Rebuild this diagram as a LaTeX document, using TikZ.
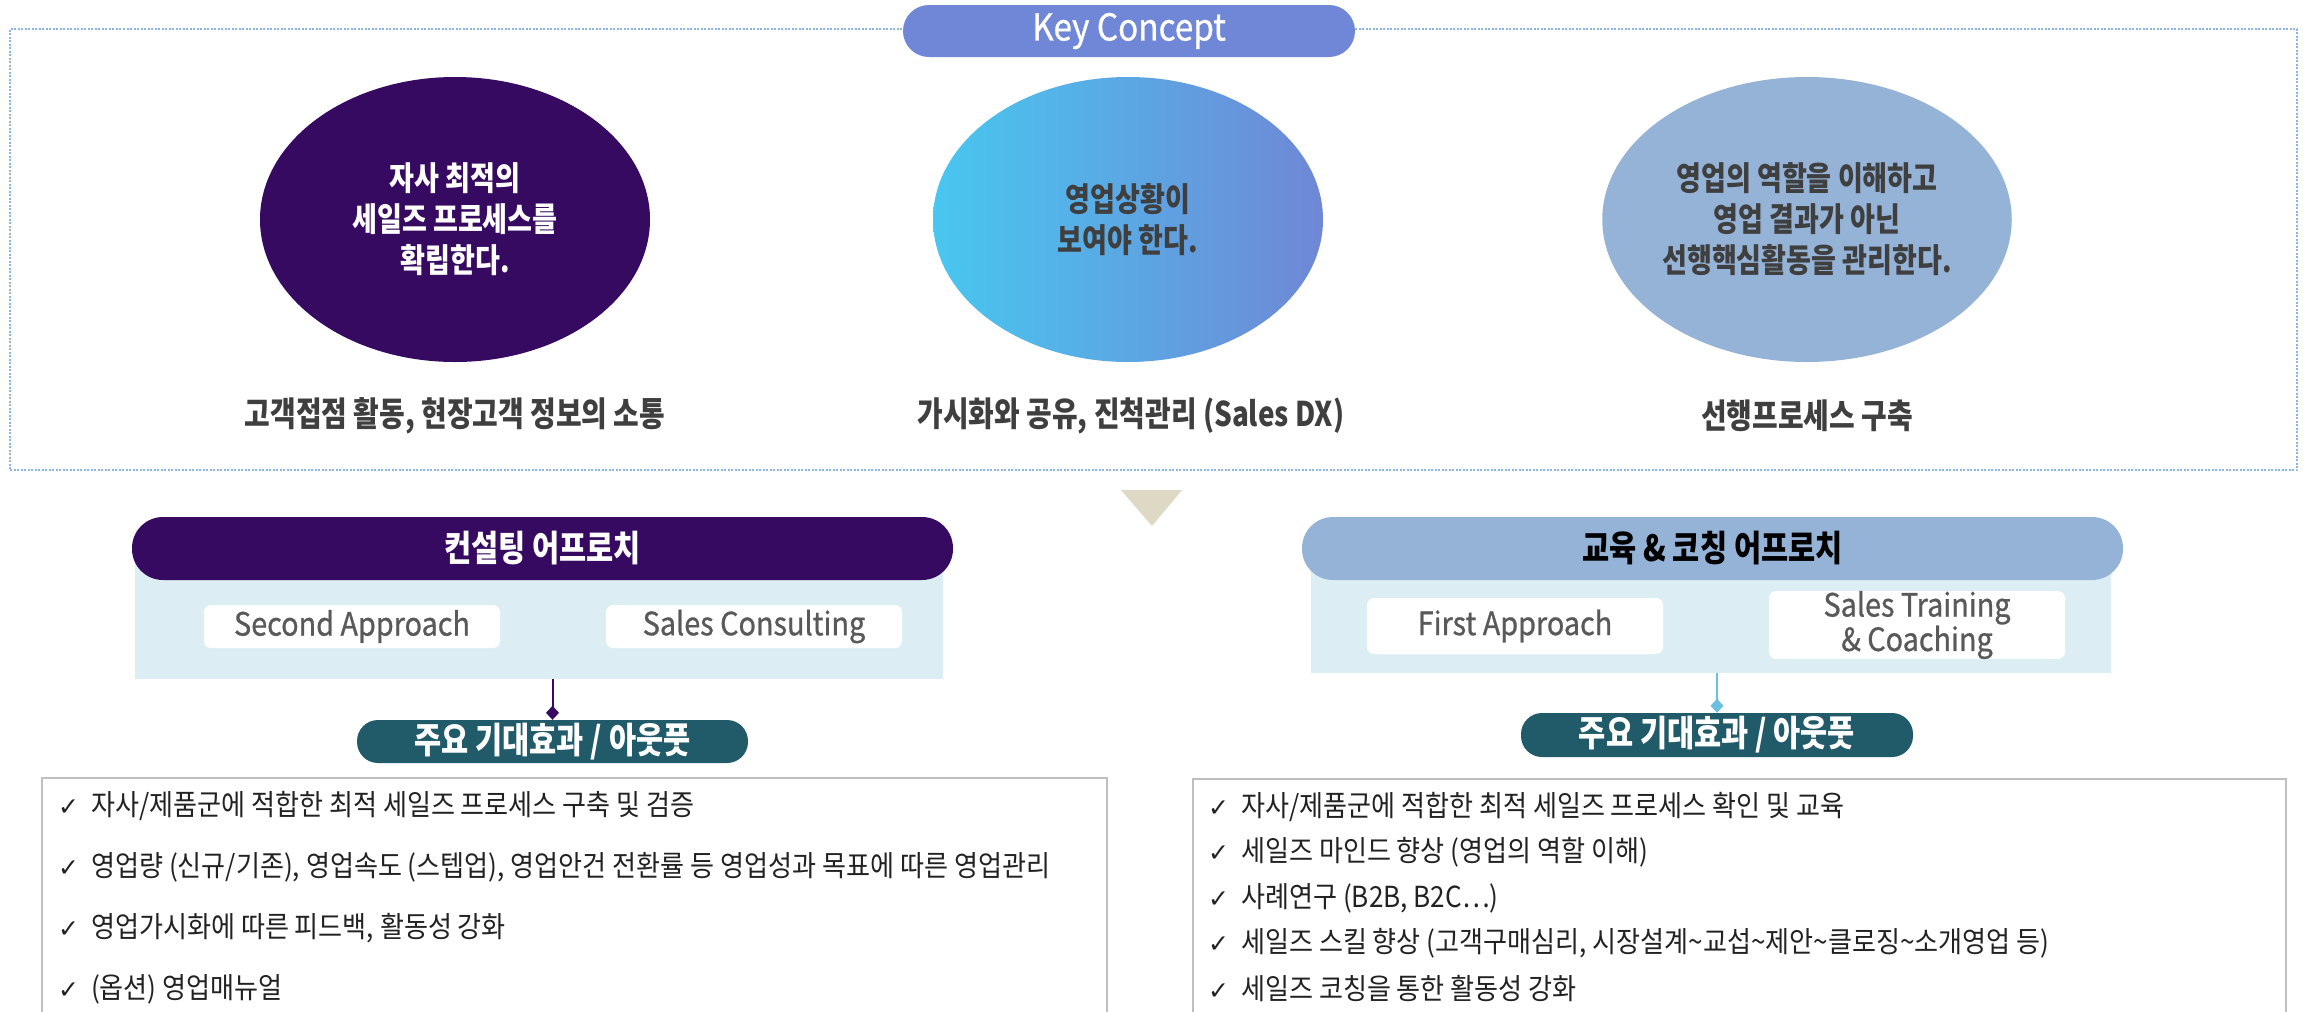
\documentclass[tikz,border=0pt]{standalone}
\usepackage{fontspec}
\setmainfont{Noto Sans CJK KR}
\newfontfamily\kc{Noto Sans CJK KR}[FakeStretch=0.82]
\newfontfamily\kl{Noto Sans CJK KR}[FakeStretch=0.9]
\newfontfamily\km{Noto Sans CJK KR}[FakeStretch=0.9, FakeBold=0.8]
\newfontfamily\dv{DejaVu Sans}
\usetikzlibrary{shapes.geometric,arrows.meta}
\definecolor{dpurple}{HTML}{360A61}
\definecolor{kcblue}{HTML}{6F87D6}
\definecolor{cyanl}{HTML}{48C7F0}
\definecolor{steel}{HTML}{95B3D7}
\definecolor{paleblue}{HTML}{DCEEF3}
\definecolor{tealdk}{HTML}{215A69}
\definecolor{tanc}{HTML}{DDD9C4}
\definecolor{dotblue}{HTML}{8EB4E3}
\definecolor{txtgray}{HTML}{3F3F3F}
\definecolor{boxgray}{HTML}{BFBFBF}
\definecolor{linkcyan}{HTML}{6CBFDE}
\definecolor{wtxt}{HTML}{595959}
\definecolor{itemtxt}{HTML}{222222}
\newcommand\ckm{{\dv\fontsize{25}{25}\selectfont ✓}\hspace{12pt}}
\begin{document}
\begin{tikzpicture}[x=1pt,y=-1pt,
  ell/.style={ellipse, minimum width=390pt, minimum height=285pt, inner sep=0pt, align=center,
    font=\kc\bfseries\fontsize{33}{41}\selectfont},
  capt/.style={inner sep=0pt, font=\kc\bfseries\fontsize{34}{36}\selectfont, text=txtgray},
  hdr/.style={rectangle, minimum width=821pt, minimum height=63pt, rounded corners=31pt, inner sep=0pt,
    font=\kc\bfseries\fontsize{36}{36}\selectfont},
  bgbox/.style={rectangle, fill=paleblue, inner sep=0pt},
  wbox/.style={rectangle, fill=white, rounded corners=7pt, minimum width=296pt, inner sep=0pt, align=center,
    text=wtxt, font=\km\fontsize{32}{29}\selectfont},
  outp/.style={rectangle, fill=tealdk, minimum width=391pt, minimum height=43pt, rounded corners=21pt, inner sep=0pt,
    text=white, font=\kc\bfseries\fontsize{36}{36}\selectfont},
  listbox/.style={rectangle, draw=boxgray, line width=2pt, fill=white, inner sep=0pt},
  item/.style={anchor=west, inner sep=0pt, font=\kl\fontsize{29}{29}\selectfont, text=itemtxt},
  link/.style={line width=2pt}
]
\useasboundingbox (0,0) rectangle (2303,1012);
\fill[white] (0,0) rectangle (2303,1012);

% top frame
\node[draw=dotblue, line width=2pt, dash pattern=on 2pt off 1.5pt, minimum width=2287pt, minimum height=441pt, inner sep=0pt] (frame) at (1153.5,249.5) {};
\node[rectangle, fill=kcblue, minimum width=452pt, minimum height=52pt, rounded corners=26pt, inner sep=0pt,
  text=white, font=\km\fontsize{37}{37}\selectfont] (kc) at (1129,31) {Key Concept};

% ellipses
\node[ell, fill=dpurple, text=white] (e1) at (455,219.5) {자사 최적의\\세일즈 프로세스를\\확립한다.};
\node[ell, left color=cyanl, right color=kcblue, text=txtgray] (e2) at (1128,219.5) {영업상황이\\보여야 한다.};
\node[ell, fill=steel, text=txtgray] (e3) at (1807,219.5) {영업의 역할을 이해하고\\영업 결과가 아닌\\선행핵심활동을 관리한다.};

\node[capt] (c1) at (455,416) {고객접점 활동, 현장고객 정보의 소통};
\node[capt] (c2) at (1131,416) {가시화와 공유, 진척관리 (Sales DX)};
\node[capt] (c3) at (1807,416) {선행프로세스 구축};

% down triangle
\fill[tanc] (1121,490) -- (1182,490) -- (1152,526) -- cycle;

% lower left
\node[bgbox, minimum width=808pt, minimum height=131pt] (lbg) at (539,613.5) {};
\node[hdr, fill=dpurple, text=white] (lh) at (542.5,548.5) {컨설팅 어프로치};
\node[wbox, minimum height=43pt] (la) at (352,626.5) {Second Approach};
\node[wbox, minimum height=43pt] (lb) at (754,626.5) {Sales Consulting};
\node[outp] (lo) at (552.5,741.5) {주요 기대효과 / 아웃풋};
\draw[link, draw=dpurple, -{Diamond[length=14pt,width=13pt,fill=dpurple]}] (lo.north |- lbg.south) -- (lo.north);
\node[listbox, minimum width=1065pt, minimum height=260pt] (ll) at (574.5,908) {};
\node[item] (l1) at (58,806) {\ckm 자사/제품군에 적합한 최적 세일즈 프로세스 구축 및 검증};
\node[item] (l2) at (58,867) {\ckm 영업량 (신규/기존), 영업속도 (스텝업), 영업안건 전환률 등 영업성과 목표에 따른 영업관리};
\node[item] (l3) at (58,928) {\ckm 영업가시화에 따른 피드백, 활동성 강화};
\node[item] (l4) at (58,989) {\ckm (옵션) 영업매뉴얼};

% lower right
\node[bgbox, minimum width=800pt, minimum height=125pt] (rbg) at (1711,610.5) {};
\node[hdr, fill=steel, text=black] (rh) at (1712.5,548.5) {교육 \& 코칭 어프로치};
\node[wbox, minimum height=56pt] (ra) at (1515,626) {First Approach};
\node[wbox, minimum height=58pt] (rb) at (1917,625) {Sales Training\\\& Coaching};
\node[outp, minimum width=392pt, minimum height=44pt] (ro) at (1717,735) {주요 기대효과 / 아웃풋};
\draw[link, draw=linkcyan, -{Diamond[length=14pt,width=13pt,fill=linkcyan]}] (ro.north |- rbg.south) -- (ro.north);
\node[listbox, minimum width=1093pt, minimum height=260pt] (rl) at (1739.5,909) {};
\node[item] (r1) at (1208,807) {\ckm 자사/제품군에 적합한 최적 세일즈 프로세스 확인 및 교육};
\node[item] (r2) at (1208,852) {\ckm 세일즈 마인드 향상 (영업의 역할 이해)};
\node[item] (r3) at (1208,898) {\ckm 사례연구 (B2B, B2C…)};
\node[item] (r4) at (1208,943) {\ckm 세일즈 스킬 향상 (고객구매심리, 시장설계\textasciitilde 교섭\textasciitilde 제안\textasciitilde 클로징\textasciitilde 소개영업 등)};
\node[item] (r5) at (1208,989) {\ckm 세일즈 코칭을 통한 활동성 강화};
\end{tikzpicture}
\end{document}
